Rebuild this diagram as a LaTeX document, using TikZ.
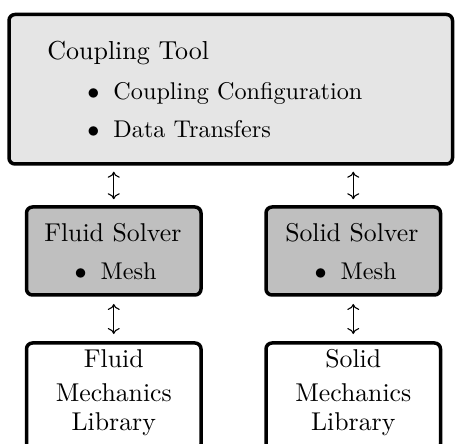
\documentclass[tikz,border=0pt]{standalone}
\usetikzlibrary{arrows.meta}
\begin{document}
\begin{tikzpicture}[x=1pt,y=1pt,
  font=\fontsize{10}{12}\selectfont,
  box/.style={draw=black,line width=1.75pt,rounded corners=3pt,inner sep=0pt},
  topbox/.style={box,fill=black!10,minimum width=221.75pt,minimum height=74.75pt},
  solverbox/.style={box,fill=black!25,minimum width=87.25pt,minimum height=44pt},
  libbox/.style={box,fill=white,minimum width=87.25pt,minimum height=53.5pt},
  txt/.style={inner sep=0pt,anchor=base,scale=1.287,transform shape},
  headtxt/.style={inner sep=0pt,anchor=base west,scale=1.30,transform shape},
  itemtxt/.style={inner sep=0pt,anchor=base west,scale=1.21,transform shape},
  link/.style={line width=0.55pt,{Computer Modern Rightarrow[width=6pt,length=3pt]}-{Computer Modern Rightarrow[width=6pt,length=3pt]}}
]
\useasboundingbox (0,0) rectangle (227.5,222);
\clip (0,0) rectangle (227.5,222);

% boxes
\node[topbox] (ct) at (115.375,177.375) {};
\node[solverbox] (fs) at (56.875,96.5) {};
\node[solverbox] (ss) at (176.625,96.5) {};
\node[libbox] (fl) at (56.875,23.75) {};
\node[libbox] (sl) at (176.625,23.75) {};

% coupling tool text
\node[headtxt] (ctt) at (23.4,192) {Coupling Tool};
\node[itemtxt] (cti1) at (56.5,172.35) {\llap{$\bullet$\hspace{5.8pt}}Coupling Configuration};
\node[itemtxt] (cti2) at (56.5,153.15) {\llap{$\bullet$\hspace{5.8pt}}Data Transfers};

% solver texts
\node[txt] (fst) at (56.4,101) {Fluid Solver};
\node[itemtxt] (fsm) at (50.1,82) {\llap{$\bullet$\hspace{5.8pt}}Mesh};
\node[txt] (sst) at (175.9,101) {Solid Solver};
\node[itemtxt] (ssm) at (170.1,82) {\llap{$\bullet$\hspace{5.8pt}}Mesh};

% library texts
\node[txt] (fl1) at (56.875,38) {Fluid};
\node[txt] (fl2) at (56.875,21.15) {Mechanics};
\node[txt] (fl3) at (56.875,6.5) {Library};
\node[txt] (sl1) at (176.625,38) {Solid};
\node[txt] (sl2) at (176.625,21.15) {Mechanics};
\node[txt] (sl3) at (176.625,6.5) {Library};

% connectors
\draw[link,shorten <=3pt,shorten >=3pt] (fs.north |- ct.south) -- (fs.north);
\draw[link,shorten <=3pt,shorten >=3pt] (ss.north |- ct.south) -- (ss.north);
\draw[link,shorten <=3.6pt,shorten >=3.6pt] (fs.south) -- (fl.north);
\draw[link,shorten <=3.6pt,shorten >=3.6pt] (ss.south) -- (sl.north);
\end{tikzpicture}
\end{document}
